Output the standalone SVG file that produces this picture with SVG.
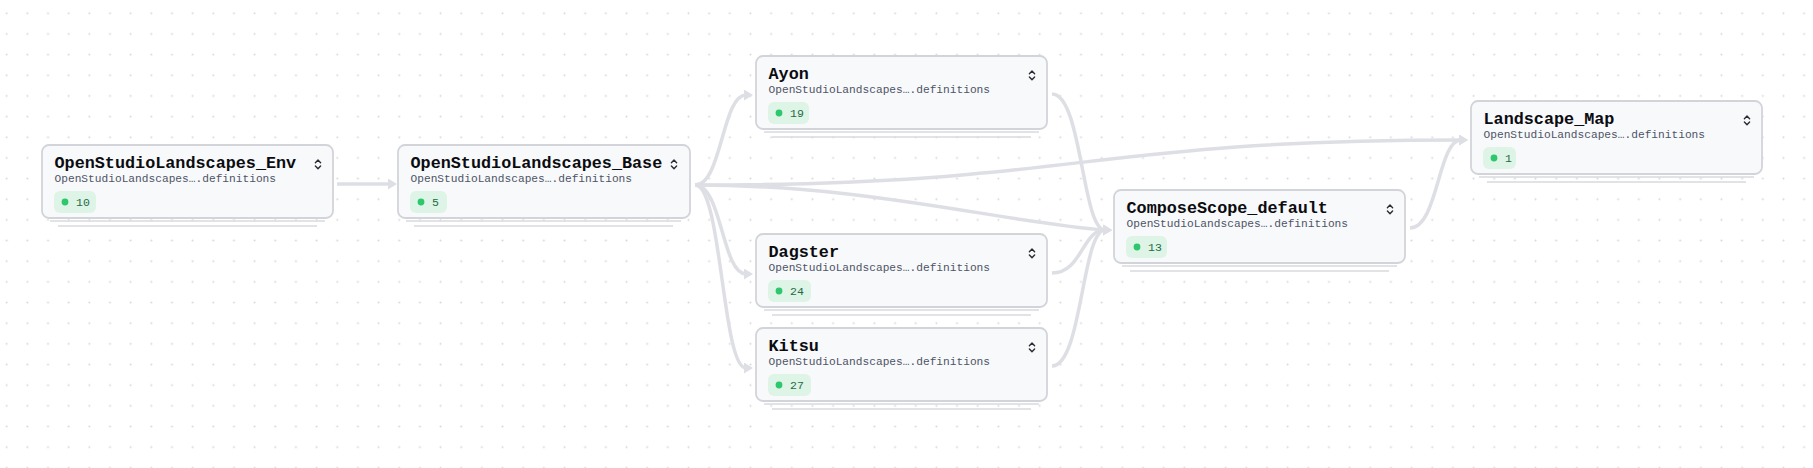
<svg xmlns="http://www.w3.org/2000/svg" width="1813" height="468" viewBox="0 0 1813 468">
<style>
.box{fill:#f8f9fb;stroke:#d2d4da;stroke-width:1.8}
.stack{stroke:#d9dadf;stroke-width:1.5}
.title{font-family:"Liberation Mono","DejaVu Sans Mono",monospace;font-weight:bold;font-size:16.8px;fill:#0b0c10}
.sub{font-family:"Liberation Mono","DejaVu Sans Mono",monospace;font-size:11.2px;fill:#4d5466}
.badge{fill:#ddf4e6}
.dot{fill:#2dc76d}
.num{font-family:"Liberation Mono","DejaVu Sans Mono",monospace;font-size:11.5px;fill:#236b45}
.chev{stroke:#2b2d33;fill:none;stroke-width:1.4;stroke-linecap:round;stroke-linejoin:round}
.edge{fill:none;stroke:#dedfe5;stroke-width:3.5;marker-end:url(#arrow)}
</style>
<defs>
<pattern id="grid" patternUnits="userSpaceOnUse" x="-3.63" y="2.97" width="20.66" height="20.66">
<circle cx="10.33" cy="10.33" r="1" fill="#d6d7dc"/>
</pattern>
<marker id="arrow" markerUnits="userSpaceOnUse" viewBox="0 0 9 11" markerWidth="9" markerHeight="11" refX="2" refY="5.5" orient="auto">
<path d="M0,0 L9,5.5 L0,11 z" fill="#dedfe5"/>
</marker>
<g id="chevron"><path class="chev" d="M-2.6,-1.6 L0,-4.4 L2.6,-1.6 M-2.6,1.6 L0,4.4 L2.6,1.6"/></g>
</defs>
<rect width="1813" height="468" fill="#ffffff"/>
<rect width="1813" height="468" fill="url(#grid)"/>

<g id="connectors">
<path class="edge" d="M337,184 L390,184"/>
<path class="edge" d="M695,185 C722,185 722,95 746,95"/>
<path class="edge" d="M695,185 C722,185 722,274 746,274"/>
<path class="edge" d="M695,185 C722,185 722,368 746,368"/>
<path class="edge" d="M695,185 C870,185 1000,222 1105,230"/>
<path class="edge" d="M695,185 C1081,185 1081,140 1461,140"/>
<path class="edge" d="M1052,94 C1082,94 1082,230 1105,230"/>
<path class="edge" d="M1052,273 C1082,273 1082,230 1105,230"/>
<path class="edge" d="M1052,366 C1082,366 1082,230 1105,230"/>
<path class="edge" d="M1410,228 C1438,228 1438,140 1461,140"/>
</g>

<g id="node-env" transform="translate(42,145)">
<line class="stack" x1="8" y1="76" x2="283" y2="76"/><line class="stack" x1="16" y1="81" x2="275" y2="81"/>
<rect class="box" x="0" y="0" width="291" height="73" rx="7"/>
<text class="title" x="12.5" y="23">OpenStudioLandscapes_Env</text>
<text class="sub" x="12.5" y="36.7">OpenStudioLandscapes….definitions</text>
<rect class="badge" x="12" y="46" width="42" height="22" rx="6"/><circle class="dot" cx="23" cy="57" r="3.4"/>
<text class="num" x="34" y="61">10</text>
<use href="#chevron" x="276" y="19.3"/>
</g>

<g id="node-base" transform="translate(398,145)">
<line class="stack" x1="8" y1="76" x2="283" y2="76"/><line class="stack" x1="16" y1="81" x2="275" y2="81"/>
<rect class="box" x="0" y="0" width="292" height="73" rx="7"/>
<text class="title" x="12.5" y="23">OpenStudioLandscapes_Base</text>
<text class="sub" x="12.5" y="36.7">OpenStudioLandscapes….definitions</text>
<rect class="badge" x="12" y="46" width="37" height="22" rx="6"/><circle class="dot" cx="23" cy="57" r="3.4"/>
<text class="num" x="34" y="61">5</text>
<use href="#chevron" x="276" y="19.3"/>
</g>

<g id="node-ayon" transform="translate(756,56)">
<line class="stack" x1="8" y1="76" x2="283" y2="76"/><line class="stack" x1="16" y1="81" x2="275" y2="81"/>
<rect class="box" x="0" y="0" width="291" height="73" rx="7"/>
<text class="title" x="12.5" y="23">Ayon</text>
<text class="sub" x="12.5" y="36.7">OpenStudioLandscapes….definitions</text>
<rect class="badge" x="12" y="46" width="41" height="22" rx="6"/><circle class="dot" cx="23" cy="57" r="3.4"/>
<text class="num" x="34" y="61">19</text>
<use href="#chevron" x="276" y="19.3"/>
</g>

<g id="node-dagster" transform="translate(756,234)">
<line class="stack" x1="8" y1="76" x2="283" y2="76"/><line class="stack" x1="16" y1="81" x2="275" y2="81"/>
<rect class="box" x="0" y="0" width="291" height="73" rx="7"/>
<text class="title" x="12.5" y="23">Dagster</text>
<text class="sub" x="12.5" y="36.7">OpenStudioLandscapes….definitions</text>
<rect class="badge" x="12" y="46" width="43" height="22" rx="6"/><circle class="dot" cx="23" cy="57" r="3.4"/>
<text class="num" x="34" y="61">24</text>
<use href="#chevron" x="276" y="19.3"/>
</g>

<g id="node-kitsu" transform="translate(756,328)">
<line class="stack" x1="8" y1="76" x2="283" y2="76"/><line class="stack" x1="16" y1="81" x2="275" y2="81"/>
<rect class="box" x="0" y="0" width="291" height="73" rx="7"/>
<text class="title" x="12.5" y="23">Kitsu</text>
<text class="sub" x="12.5" y="36.7">OpenStudioLandscapes….definitions</text>
<rect class="badge" x="12" y="46" width="43" height="22" rx="6"/><circle class="dot" cx="23" cy="57" r="3.4"/>
<text class="num" x="34" y="61">27</text>
<use href="#chevron" x="276" y="19.3"/>
</g>

<g id="node-compose" transform="translate(1114,190)">
<line class="stack" x1="8" y1="76" x2="283" y2="76"/><line class="stack" x1="16" y1="81" x2="275" y2="81"/>
<rect class="box" x="0" y="0" width="291" height="73" rx="7"/>
<text class="title" x="12.5" y="23">ComposeScope_default</text>
<text class="sub" x="12.5" y="36.7">OpenStudioLandscapes….definitions</text>
<rect class="badge" x="12" y="46" width="41" height="22" rx="6"/><circle class="dot" cx="23" cy="57" r="3.4"/>
<text class="num" x="34" y="61">13</text>
<use href="#chevron" x="276" y="19.3"/>
</g>

<g id="node-map" transform="translate(1471,101)">
<line class="stack" x1="8" y1="76" x2="283" y2="76"/><line class="stack" x1="16" y1="81" x2="275" y2="81"/>
<rect class="box" x="0" y="0" width="291" height="73" rx="7"/>
<text class="title" x="12.5" y="23">Landscape_Map</text>
<text class="sub" x="12.5" y="36.7">OpenStudioLandscapes….definitions</text>
<rect class="badge" x="12" y="46" width="33" height="22" rx="6"/><circle class="dot" cx="23" cy="57" r="3.4"/>
<text class="num" x="34" y="61">1</text>
<use href="#chevron" x="276" y="19.3"/>
</g>
</svg>
